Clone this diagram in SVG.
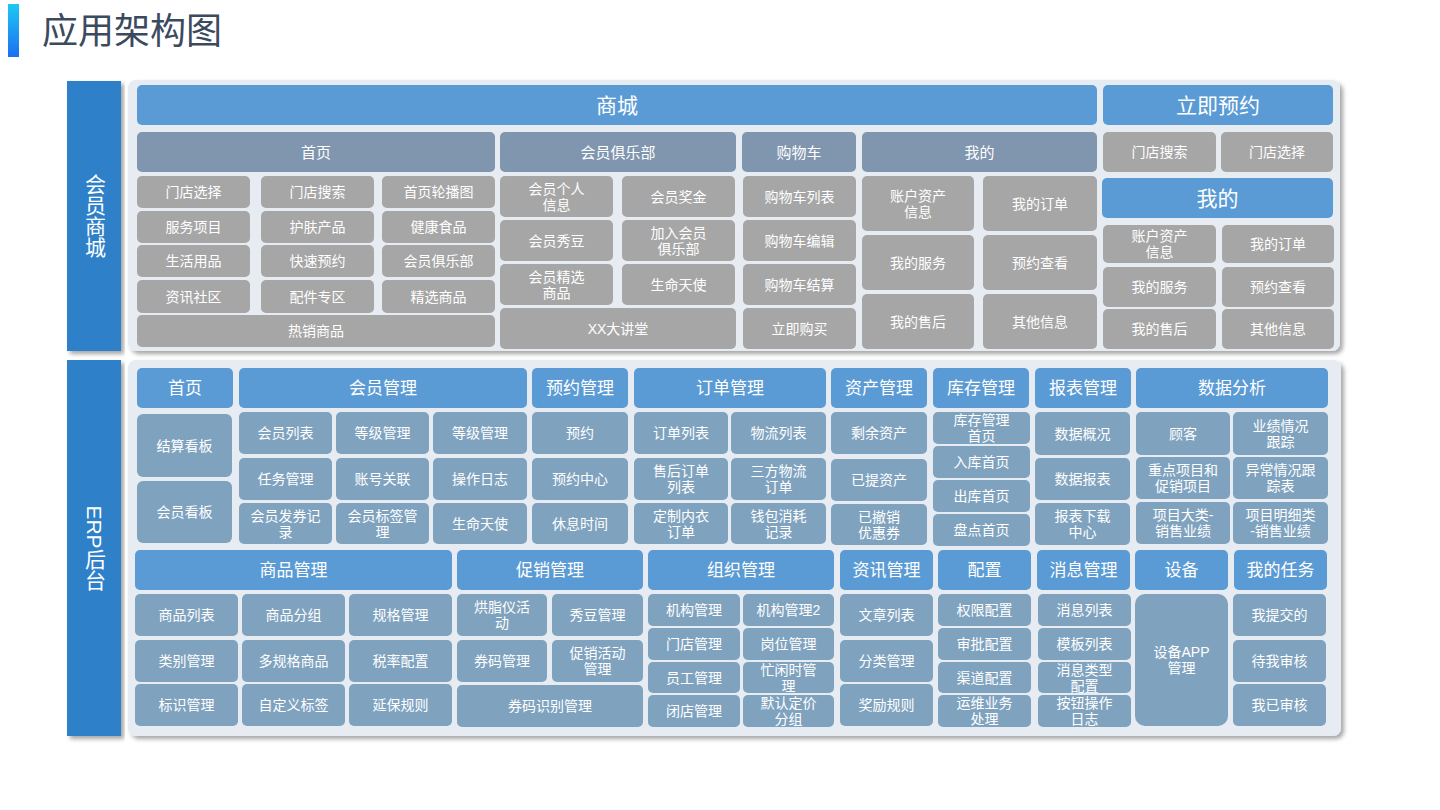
<svg xmlns="http://www.w3.org/2000/svg" width="1440" height="810" viewBox="0 0 1440 810">
<style>
.hb{fill:#5b9bd5}
.hg{fill:#8095ae}
.gi{fill:#a6a6a6}
.ei{fill:#7fa3bf}
.bar{fill:#2f80c9}
.pan{fill:#e7ecf3}
text{font-family:"Liberation Sans","Noto Sans CJK SC",sans-serif;fill:#fff;text-anchor:middle;dominant-baseline:central}
.f21{font-size:21px}.f17{font-size:17px}.f15{font-size:15px}.f14{font-size:14px}
.vt{font-size:21px;writing-mode:vertical-rl}
.title{font-size:36px;fill:#3b4a5e;text-anchor:start}
</style>
<defs>
<linearGradient id="tg" x1="0" y1="0" x2="0" y2="1"><stop offset="0" stop-color="#1ec8f3"/><stop offset="1" stop-color="#1d6ff2"/></linearGradient>
<filter id="sh" x="-5%" y="-5%" width="112%" height="115%"><feDropShadow dx="3" dy="3" stdDeviation="2" flood-color="#000" flood-opacity="0.35"/></filter>
</defs>
<rect width="1440" height="810" fill="#fff"/>
<g id="title"><rect x="8" y="4" width="11" height="53" fill="url(#tg)"/><text class="title" x="42" y="31">应用架构图</text></g>

<g id="bar-mall"><rect class="bar" x="67" y="81" width="54" height="270" filter="url(#sh)"/><text class="vt" x="94" y="216">会员商城</text></g>
<g id="bar-erp"><rect class="bar" x="67" y="360" width="54" height="376" filter="url(#sh)"/><text class="vt" x="94" y="548">ERP后台</text></g>
<g id="panel-mall"><rect class="pan" x="128" y="80" width="1212" height="271" rx="8" filter="url(#sh)"/></g>
<g id="panel-erp"><rect class="pan" x="128" y="360" width="1213" height="376" rx="8" filter="url(#sh)"/></g>

<!-- 会员商城 -->
<g id="mall-header"><rect class="hb" x="137" y="85" width="960" height="40" rx="5"/><text class="f21" x="617" y="105">商城</text></g>
<g id="booking-header"><rect class="hb" x="1103" y="85" width="230" height="40" rx="5"/><text class="f21" x="1218" y="105">立即预约</text></g>
<g id="mall-home"><rect class="hg" x="137" y="132" width="358" height="40" rx="5"/><text class="f15" x="316" y="152">首页</text></g>
<g id="mall-club"><rect class="hg" x="500" y="132" width="236" height="40" rx="5"/><text class="f15" x="618" y="152">会员俱乐部</text></g>
<g id="mall-cart"><rect class="hg" x="742" y="132" width="114" height="40" rx="5"/><text class="f15" x="799" y="152">购物车</text></g>
<g id="mall-mine"><rect class="hg" x="862" y="132" width="235" height="40" rx="5"/><text class="f15" x="979.5" y="152">我的</text></g>
<g id="bk-search"><rect class="gi" x="1103" y="132" width="113" height="40" rx="5"/><text class="f14" x="1159.5" y="152">门店搜索</text></g>
<g id="bk-select"><rect class="gi" x="1221" y="132" width="112" height="40" rx="5"/><text class="f14" x="1277" y="152">门店选择</text></g>
<g id="bk-mine"><rect class="hb" x="1102" y="178" width="231" height="40" rx="5"/><text class="f21" x="1217.5" y="198">我的</text></g>

<g id="home-1"><rect class="gi" x="137" y="176" width="113" height="32" rx="5"/><text class="f14" x="193.5" y="192">门店选择</text></g>
<g id="home-2"><rect class="gi" x="261" y="176" width="113" height="32" rx="5"/><text class="f14" x="317.5" y="192">门店搜索</text></g>
<g id="home-3"><rect class="gi" x="382" y="176" width="113" height="32" rx="5"/><text class="f14" x="438.5" y="192">首页轮播图</text></g>
<g id="home-4"><rect class="gi" x="137" y="211" width="113" height="32" rx="5"/><text class="f14" x="193.5" y="227">服务项目</text></g>
<g id="home-5"><rect class="gi" x="261" y="211" width="113" height="32" rx="5"/><text class="f14" x="317.5" y="227">护肤产品</text></g>
<g id="home-6"><rect class="gi" x="382" y="211" width="113" height="32" rx="5"/><text class="f14" x="438.5" y="227">健康食品</text></g>
<g id="home-7"><rect class="gi" x="137" y="245" width="113" height="32" rx="5"/><text class="f14" x="193.5" y="261">生活用品</text></g>
<g id="home-8"><rect class="gi" x="261" y="245" width="113" height="32" rx="5"/><text class="f14" x="317.5" y="261">快速预约</text></g>
<g id="home-9"><rect class="gi" x="382" y="245" width="113" height="32" rx="5"/><text class="f14" x="438.5" y="261">会员俱乐部</text></g>
<g id="home-10"><rect class="gi" x="137" y="280" width="113" height="33" rx="5"/><text class="f14" x="193.5" y="296.5">资讯社区</text></g>
<g id="home-11"><rect class="gi" x="261" y="280" width="113" height="33" rx="5"/><text class="f14" x="317.5" y="296.5">配件专区</text></g>
<g id="home-12"><rect class="gi" x="382" y="280" width="113" height="33" rx="5"/><text class="f14" x="438.5" y="296.5">精选商品</text></g>
<g id="home-13"><rect class="gi" x="137" y="315" width="358" height="32" rx="5"/><text class="f14" x="316" y="331">热销商品</text></g>

<g id="club-1"><rect class="gi" x="500" y="176" width="113" height="41" rx="5"/><text class="f14"><tspan x="556.5" y="188.5">会员个人</tspan><tspan x="556.5" y="204.5">信息</tspan></text></g>
<g id="club-2"><rect class="gi" x="622" y="176" width="113" height="41" rx="5"/><text class="f14" x="678.5" y="196.5">会员奖金</text></g>
<g id="club-3"><rect class="gi" x="500" y="220" width="113" height="41" rx="5"/><text class="f14" x="556.5" y="240.5">会员秀豆</text></g>
<g id="club-4"><rect class="gi" x="622" y="220" width="113" height="41" rx="5"/><text class="f14"><tspan x="678.5" y="232.5">加入会员</tspan><tspan x="678.5" y="248.5">俱乐部</tspan></text></g>
<g id="club-5"><rect class="gi" x="500" y="264" width="113" height="41" rx="5"/><text class="f14"><tspan x="556.5" y="276.5">会员精选</tspan><tspan x="556.5" y="292.5">商品</tspan></text></g>
<g id="club-6"><rect class="gi" x="622" y="264" width="113" height="41" rx="5"/><text class="f14" x="678.5" y="284.5">生命天使</text></g>
<g id="club-7"><rect class="gi" x="500" y="308" width="236" height="41" rx="5"/><text class="f14" x="618" y="328.5">XX大讲堂</text></g>

<g id="cart-1"><rect class="gi" x="743" y="176" width="113" height="41" rx="5"/><text class="f14" x="799.5" y="196.5">购物车列表</text></g>
<g id="cart-2"><rect class="gi" x="743" y="220" width="113" height="41" rx="5"/><text class="f14" x="799.5" y="240.5">购物车编辑</text></g>
<g id="cart-3"><rect class="gi" x="743" y="264" width="113" height="41" rx="5"/><text class="f14" x="799.5" y="284.5">购物车结算</text></g>
<g id="cart-4"><rect class="gi" x="743" y="308" width="113" height="41" rx="5"/><text class="f14" x="799.5" y="328.5">立即购买</text></g>

<g id="mine-1"><rect class="gi" x="862" y="176" width="112" height="55" rx="5"/><text class="f14"><tspan x="918" y="195.5">账户资产</tspan><tspan x="918" y="211.5">信息</tspan></text></g>
<g id="mine-2"><rect class="gi" x="983" y="176" width="114" height="55" rx="5"/><text class="f14" x="1040" y="203.5">我的订单</text></g>
<g id="mine-3"><rect class="gi" x="862" y="235" width="112" height="55" rx="5"/><text class="f14" x="918" y="262.5">我的服务</text></g>
<g id="mine-4"><rect class="gi" x="983" y="235" width="114" height="55" rx="5"/><text class="f14" x="1040" y="262.5">预约查看</text></g>
<g id="mine-5"><rect class="gi" x="862" y="294" width="112" height="55" rx="5"/><text class="f14" x="918" y="321.5">我的售后</text></g>
<g id="mine-6"><rect class="gi" x="983" y="294" width="114" height="55" rx="5"/><text class="f14" x="1040" y="321.5">其他信息</text></g>

<g id="bkmine-1"><rect class="gi" x="1103" y="225" width="113" height="38" rx="5"/><text class="f14"><tspan x="1159.5" y="236">账户资产</tspan><tspan x="1159.5" y="252">信息</tspan></text></g>
<g id="bkmine-2"><rect class="gi" x="1222" y="225" width="112" height="38" rx="5"/><text class="f14" x="1278" y="244">我的订单</text></g>
<g id="bkmine-3"><rect class="gi" x="1103" y="267" width="113" height="40" rx="5"/><text class="f14" x="1159.5" y="287">我的服务</text></g>
<g id="bkmine-4"><rect class="gi" x="1222" y="267" width="112" height="40" rx="5"/><text class="f14" x="1278" y="287">预约查看</text></g>
<g id="bkmine-5"><rect class="gi" x="1103" y="309" width="113" height="40" rx="5"/><text class="f14" x="1159.5" y="329">我的售后</text></g>
<g id="bkmine-6"><rect class="gi" x="1222" y="309" width="112" height="40" rx="5"/><text class="f14" x="1278" y="329">其他信息</text></g>

<!-- ERP 后台 row A -->
<g id="erp-home"><rect class="hb" x="137" y="368" width="96" height="40" rx="5"/><text class="f17" x="185" y="388">首页</text></g>
<g id="erp-member"><rect class="hb" x="239" y="368" width="288" height="40" rx="5"/><text class="f17" x="383" y="388">会员管理</text></g>
<g id="erp-booking"><rect class="hb" x="532" y="368" width="96" height="40" rx="5"/><text class="f17" x="580" y="388">预约管理</text></g>
<g id="erp-order"><rect class="hb" x="634" y="368" width="192" height="40" rx="5"/><text class="f17" x="730" y="388">订单管理</text></g>
<g id="erp-asset"><rect class="hb" x="831" y="368" width="96" height="40" rx="5"/><text class="f17" x="879" y="388">资产管理</text></g>
<g id="erp-stock"><rect class="hb" x="933" y="368" width="96" height="40" rx="5"/><text class="f17" x="981" y="388">库存管理</text></g>
<g id="erp-report"><rect class="hb" x="1035" y="368" width="96" height="40" rx="5"/><text class="f17" x="1083" y="388">报表管理</text></g>
<g id="erp-data"><rect class="hb" x="1136" y="368" width="192" height="40" rx="5"/><text class="f17" x="1232" y="388">数据分析</text></g>

<g id="eh-1"><rect class="ei" x="137" y="414" width="95" height="63" rx="6"/><text class="f14" x="184.5" y="445.5">结算看板</text></g>
<g id="eh-2"><rect class="ei" x="137" y="481" width="95" height="62" rx="6"/><text class="f14" x="184.5" y="512">会员看板</text></g>

<g id="em-1"><rect class="ei" x="239" y="412" width="93" height="42" rx="5"/><text class="f14" x="285.5" y="433">会员列表</text></g>
<g id="em-2"><rect class="ei" x="336" y="412" width="93" height="42" rx="5"/><text class="f14" x="382.5" y="433">等级管理</text></g>
<g id="em-3"><rect class="ei" x="433" y="412" width="94" height="42" rx="5"/><text class="f14" x="480" y="433">等级管理</text></g>
<g id="em-4"><rect class="ei" x="239" y="458" width="93" height="42" rx="5"/><text class="f14" x="285.5" y="479">任务管理</text></g>
<g id="em-5"><rect class="ei" x="336" y="458" width="93" height="42" rx="5"/><text class="f14" x="382.5" y="479">账号关联</text></g>
<g id="em-6"><rect class="ei" x="433" y="458" width="94" height="42" rx="5"/><text class="f14" x="480" y="479">操作日志</text></g>
<g id="em-7"><rect class="ei" x="239" y="503" width="93" height="41" rx="5"/><text class="f14"><tspan x="285.5" y="515.5">会员发券记</tspan><tspan x="285.5" y="531.5">录</tspan></text></g>
<g id="em-8"><rect class="ei" x="336" y="503" width="93" height="41" rx="5"/><text class="f14"><tspan x="382.5" y="515.5">会员标签管</tspan><tspan x="382.5" y="531.5">理</tspan></text></g>
<g id="em-9"><rect class="ei" x="433" y="503" width="94" height="41" rx="5"/><text class="f14" x="480" y="523.5">生命天使</text></g>

<g id="eb-1"><rect class="ei" x="532" y="412" width="96" height="42" rx="5"/><text class="f14" x="580" y="433">预约</text></g>
<g id="eb-2"><rect class="ei" x="532" y="458" width="96" height="42" rx="5"/><text class="f14" x="580" y="479">预约中心</text></g>
<g id="eb-3"><rect class="ei" x="532" y="503" width="96" height="41" rx="5"/><text class="f14" x="580" y="523.5">休息时间</text></g>

<g id="eo-1"><rect class="ei" x="634" y="412" width="94" height="42" rx="5"/><text class="f14" x="681" y="433">订单列表</text></g>
<g id="eo-2"><rect class="ei" x="731" y="412" width="95" height="42" rx="5"/><text class="f14" x="778.5" y="433">物流列表</text></g>
<g id="eo-3"><rect class="ei" x="634" y="458" width="94" height="42" rx="5"/><text class="f14"><tspan x="681" y="471">售后订单</tspan><tspan x="681" y="487">列表</tspan></text></g>
<g id="eo-4"><rect class="ei" x="731" y="458" width="95" height="42" rx="5"/><text class="f14"><tspan x="778.5" y="471">三方物流</tspan><tspan x="778.5" y="487">订单</tspan></text></g>
<g id="eo-5"><rect class="ei" x="634" y="503" width="94" height="41" rx="5"/><text class="f14"><tspan x="681" y="515.5">定制内衣</tspan><tspan x="681" y="531.5">订单</tspan></text></g>
<g id="eo-6"><rect class="ei" x="731" y="503" width="95" height="41" rx="5"/><text class="f14"><tspan x="778.5" y="515.5">钱包消耗</tspan><tspan x="778.5" y="531.5">记录</tspan></text></g>

<g id="ea-1"><rect class="ei" x="831" y="412" width="96" height="42" rx="5"/><text class="f14" x="879" y="433">剩余资产</text></g>
<g id="ea-2"><rect class="ei" x="831" y="459" width="96" height="42" rx="5"/><text class="f14" x="879" y="480">已提资产</text></g>
<g id="ea-3"><rect class="ei" x="831" y="504" width="96" height="41" rx="5"/><text class="f14"><tspan x="879" y="516.5">已撤销</tspan><tspan x="879" y="532.5">优惠券</tspan></text></g>

<g id="es-1"><rect class="ei" x="933" y="412" width="97" height="32" rx="5"/><text class="f14"><tspan x="981.5" y="420">库存管理</tspan><tspan x="981.5" y="436">首页</tspan></text></g>
<g id="es-2"><rect class="ei" x="933" y="446" width="97" height="32" rx="5"/><text class="f14" x="981.5" y="462">入库首页</text></g>
<g id="es-3"><rect class="ei" x="933" y="480" width="97" height="32" rx="5"/><text class="f14" x="981.5" y="496">出库首页</text></g>
<g id="es-4"><rect class="ei" x="933" y="514" width="97" height="32" rx="5"/><text class="f14" x="981.5" y="530">盘点首页</text></g>

<g id="er-1"><rect class="ei" x="1035" y="412" width="95" height="43" rx="5"/><text class="f14" x="1082.5" y="433.5">数据概况</text></g>
<g id="er-2"><rect class="ei" x="1035" y="458" width="95" height="42" rx="5"/><text class="f14" x="1082.5" y="479">数据报表</text></g>
<g id="er-3"><rect class="ei" x="1035" y="503" width="95" height="42" rx="5"/><text class="f14"><tspan x="1082.5" y="516">报表下载</tspan><tspan x="1082.5" y="532">中心</tspan></text></g>

<g id="ed-1"><rect class="ei" x="1136" y="412" width="94" height="43" rx="5"/><text class="f14" x="1183" y="433.5">顾客</text></g>
<g id="ed-2"><rect class="ei" x="1233" y="412" width="95" height="43" rx="5"/><text class="f14"><tspan x="1280.5" y="425.5">业绩情况</tspan><tspan x="1280.5" y="441.5">跟踪</tspan></text></g>
<g id="ed-3"><rect class="ei" x="1136" y="457" width="94" height="42" rx="5"/><text class="f14"><tspan x="1183" y="470">重点项目和</tspan><tspan x="1183" y="486">促销项目</tspan></text></g>
<g id="ed-4"><rect class="ei" x="1233" y="457" width="95" height="42" rx="5"/><text class="f14"><tspan x="1280.5" y="470">异常情况跟</tspan><tspan x="1280.5" y="486">踪表</tspan></text></g>
<g id="ed-5"><rect class="ei" x="1136" y="502" width="94" height="42" rx="5"/><text class="f14"><tspan x="1183" y="515">项目大类-</tspan><tspan x="1183" y="531">销售业绩</tspan></text></g>
<g id="ed-6"><rect class="ei" x="1233" y="502" width="95" height="42" rx="5"/><text class="f14"><tspan x="1280.5" y="515">项目明细类</tspan><tspan x="1280.5" y="531">-销售业绩</tspan></text></g>

<!-- ERP row B -->
<g id="erp-goods"><rect class="hb" x="135" y="550" width="317" height="40" rx="5"/><text class="f17" x="293.5" y="570">商品管理</text></g>
<g id="erp-promo"><rect class="hb" x="457" y="550" width="186" height="40" rx="5"/><text class="f17" x="550" y="570">促销管理</text></g>
<g id="erp-org"><rect class="hb" x="648" y="550" width="186" height="40" rx="5"/><text class="f17" x="741" y="570">组织管理</text></g>
<g id="erp-news"><rect class="hb" x="840" y="550" width="93" height="40" rx="5"/><text class="f17" x="886.5" y="570">资讯管理</text></g>
<g id="erp-config"><rect class="hb" x="938" y="550" width="93" height="40" rx="5"/><text class="f17" x="984.5" y="570">配置</text></g>
<g id="erp-msg"><rect class="hb" x="1037" y="550" width="93" height="40" rx="5"/><text class="f17" x="1083.5" y="570">消息管理</text></g>
<g id="erp-device"><rect class="hb" x="1135" y="550" width="93" height="40" rx="5"/><text class="f17" x="1181.5" y="570">设备</text></g>
<g id="erp-task"><rect class="hb" x="1234" y="550" width="93" height="40" rx="5"/><text class="f17" x="1280.5" y="570">我的任务</text></g>

<g id="eg-1"><rect class="ei" x="135" y="594" width="103" height="42" rx="5"/><text class="f14" x="186.5" y="615">商品列表</text></g>
<g id="eg-2"><rect class="ei" x="242" y="594" width="103" height="42" rx="5"/><text class="f14" x="293.5" y="615">商品分组</text></g>
<g id="eg-3"><rect class="ei" x="349" y="594" width="103" height="42" rx="5"/><text class="f14" x="400.5" y="615">规格管理</text></g>
<g id="eg-4"><rect class="ei" x="135" y="640" width="103" height="42" rx="5"/><text class="f14" x="186.5" y="661">类别管理</text></g>
<g id="eg-5"><rect class="ei" x="242" y="640" width="103" height="42" rx="5"/><text class="f14" x="293.5" y="661">多规格商品</text></g>
<g id="eg-6"><rect class="ei" x="349" y="640" width="103" height="42" rx="5"/><text class="f14" x="400.5" y="661">税率配置</text></g>
<g id="eg-7"><rect class="ei" x="135" y="684" width="103" height="42" rx="5"/><text class="f14" x="186.5" y="705">标识管理</text></g>
<g id="eg-8"><rect class="ei" x="242" y="684" width="103" height="42" rx="5"/><text class="f14" x="293.5" y="705">自定义标签</text></g>
<g id="eg-9"><rect class="ei" x="349" y="684" width="103" height="42" rx="5"/><text class="f14" x="400.5" y="705">延保规则</text></g>

<g id="ep-1"><rect class="ei" x="457" y="594" width="90" height="42" rx="5"/><text class="f14"><tspan x="502" y="607">烘脂仪活</tspan><tspan x="502" y="623">动</tspan></text></g>
<g id="ep-2"><rect class="ei" x="552" y="594" width="91" height="42" rx="5"/><text class="f14" x="597.5" y="615">秀豆管理</text></g>
<g id="ep-3"><rect class="ei" x="457" y="640" width="90" height="42" rx="5"/><text class="f14" x="502" y="661">券码管理</text></g>
<g id="ep-4"><rect class="ei" x="552" y="640" width="91" height="42" rx="5"/><text class="f14"><tspan x="597.5" y="653">促销活动</tspan><tspan x="597.5" y="669">管理</tspan></text></g>
<g id="ep-5"><rect class="ei" x="457" y="685" width="186" height="42" rx="5"/><text class="f14" x="550" y="706">券码识别管理</text></g>

<g id="eorg-1"><rect class="ei" x="648" y="594" width="92" height="32" rx="5"/><text class="f14" x="694" y="610">机构管理</text></g>
<g id="eorg-2"><rect class="ei" x="743" y="594" width="91" height="32" rx="5"/><text class="f14" x="788.5" y="610">机构管理2</text></g>
<g id="eorg-3"><rect class="ei" x="648" y="628" width="92" height="32" rx="5"/><text class="f14" x="694" y="644">门店管理</text></g>
<g id="eorg-4"><rect class="ei" x="743" y="628" width="91" height="32" rx="5"/><text class="f14" x="788.5" y="644">岗位管理</text></g>
<g id="eorg-5"><rect class="ei" x="648" y="662" width="92" height="31" rx="5"/><text class="f14" x="694" y="677.5">员工管理</text></g>
<g id="eorg-6"><rect class="ei" x="743" y="662" width="91" height="31" rx="5"/><text class="f14"><tspan x="788.5" y="669.5">忙闲时管</tspan><tspan x="788.5" y="685.5">理</tspan></text></g>
<g id="eorg-7"><rect class="ei" x="648" y="695" width="92" height="32" rx="5"/><text class="f14" x="694" y="711">闭店管理</text></g>
<g id="eorg-8"><rect class="ei" x="743" y="695" width="91" height="32" rx="5"/><text class="f14"><tspan x="788.5" y="703">默认定价</tspan><tspan x="788.5" y="719">分组</tspan></text></g>

<g id="en-1"><rect class="ei" x="840" y="594" width="93" height="42" rx="5"/><text class="f14" x="886.5" y="615">文章列表</text></g>
<g id="en-2"><rect class="ei" x="840" y="640" width="93" height="42" rx="5"/><text class="f14" x="886.5" y="661">分类管理</text></g>
<g id="en-3"><rect class="ei" x="840" y="684" width="93" height="42" rx="5"/><text class="f14" x="886.5" y="705">奖励规则</text></g>

<g id="ec-1"><rect class="ei" x="938" y="594" width="93" height="32" rx="5"/><text class="f14" x="984.5" y="610">权限配置</text></g>
<g id="ec-2"><rect class="ei" x="938" y="628" width="93" height="32" rx="5"/><text class="f14" x="984.5" y="644">审批配置</text></g>
<g id="ec-3"><rect class="ei" x="938" y="662" width="93" height="31" rx="5"/><text class="f14" x="984.5" y="677.5">渠道配置</text></g>
<g id="ec-4"><rect class="ei" x="938" y="695" width="93" height="32" rx="5"/><text class="f14"><tspan x="984.5" y="703">运维业务</tspan><tspan x="984.5" y="719">处理</tspan></text></g>

<g id="ems-1"><rect class="ei" x="1038" y="594" width="93" height="32" rx="5"/><text class="f14" x="1084.5" y="610">消息列表</text></g>
<g id="ems-2"><rect class="ei" x="1038" y="628" width="93" height="32" rx="5"/><text class="f14" x="1084.5" y="644">模板列表</text></g>
<g id="ems-3"><rect class="ei" x="1038" y="662" width="93" height="31" rx="5"/><text class="f14"><tspan x="1084.5" y="669.5">消息类型</tspan><tspan x="1084.5" y="685.5">配置</tspan></text></g>
<g id="ems-4"><rect class="ei" x="1038" y="695" width="93" height="32" rx="5"/><text class="f14"><tspan x="1084.5" y="703">按钮操作</tspan><tspan x="1084.5" y="719">日志</tspan></text></g>

<g id="edv-1"><rect class="ei" x="1135" y="594" width="93" height="132" rx="10"/><text class="f14"><tspan x="1181.5" y="652">设备APP</tspan><tspan x="1181.5" y="668">管理</tspan></text></g>

<g id="et-1"><rect class="ei" x="1233" y="594" width="93" height="42" rx="5"/><text class="f14" x="1279.5" y="615">我提交的</text></g>
<g id="et-2"><rect class="ei" x="1233" y="640" width="93" height="42" rx="5"/><text class="f14" x="1279.5" y="661">待我审核</text></g>
<g id="et-3"><rect class="ei" x="1233" y="684" width="93" height="42" rx="5"/><text class="f14" x="1279.5" y="705">我已审核</text></g>
</svg>
